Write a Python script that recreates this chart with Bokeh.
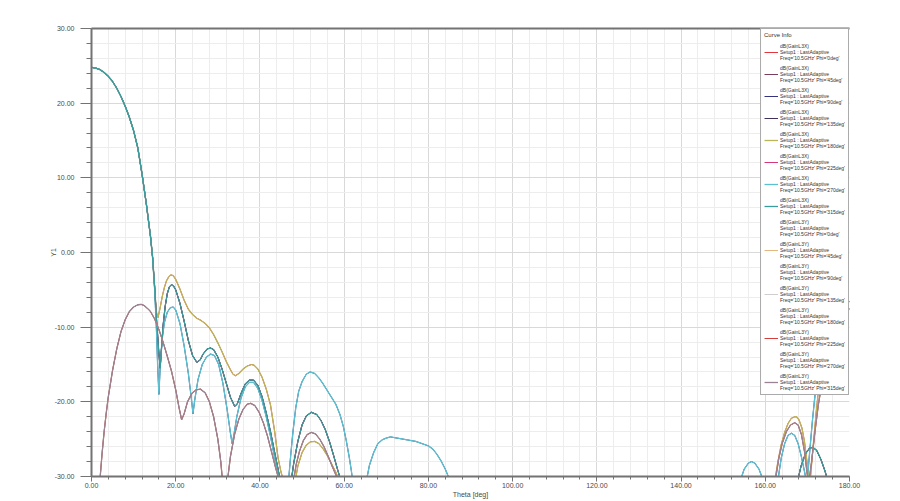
import math
from bokeh.plotting import figure
from bokeh.models import (Range1d, SingleIntervalTicker, PrintfTickFormatter,
                          LinearAxis, Legend, LegendItem, FixedTicker)
from bokeh.embed import file_html
from bokeh.resources import INLINE

NAN = float("nan")

# ---- main beam shared by the co-pol (GainL3X) cuts ----
main_theta = [0, 1, 2, 3, 4, 5, 6, 7, 8, 9, 10, 11, 12, 13, 14, 14.5]
main_db = [24.8, 24.7, 24.5, 24.1, 23.6, 22.9, 22.0, 20.9, 19.6, 18.1, 16.3, 14.0, 10.5, 6.6, 2.2, -0.6]

# ---- curve A (Phi=0/180 GainL3X) after the main beam ----
a_theta = [15.0, 15.4, 15.8, 16.3, 16.8, 17.3, 17.8, 18.3, 18.8, 19.4, 20.0, 21.0, 22.0, 23.0, 24.0,
           25.0, 26.0, 27.0, 28.0, 29.0, 30.0, 31.0, 32.0, 33.0, 33.6, 34.2, 35.0, 36.0, 37.0, 38.0,
           38.6, 39.5, 40.5, 41.5, 42.5, 43.5, 44.3, 45.0, 45.6,
           NAN, 48.5, 49.0, 50.0, 51.0, 52.0, 53.0, 54.0, 55.0, 56.0, 57.0, 58.0, 58.8,
           NAN, 162.3, 163.0, 163.8, 164.6, 165.4, 166.2, 167.0, 167.4, 168.0, 168.7, 169.3, 169.9,
           170.6, 171.2, 172.0, 172.7, 174.0, 176.0, 178.0, 180.0]
a_db = [-4.8, -8.0, -8.7, -7.4, -5.9, -4.7, -3.8, -3.3, -3.0, -3.1, -3.6, -4.9, -6.4, -7.6, -8.3,
        -8.8, -9.1, -9.5, -10.1, -11.0, -12.1, -13.3, -14.6, -15.7, -16.3, -16.5, -16.2, -15.6, -15.2, -15.0,
        -15.1, -15.6, -16.7, -18.3, -20.4, -24.0, -27.5, -29.4, -30.6,
        NAN, -30.2, -28.6, -26.8, -25.8, -25.35, -25.3, -25.6, -26.3, -27.2, -28.3, -29.4, -30.5,
        NAN, -30.5, -28.0, -25.7, -24.1, -22.9, -22.2, -22.0, -22.0, -22.4, -23.5, -25.3, -28.0,
        -31.0, -27.0, -22.0, -18.0, -14.0, -10.5, -8.0, -6.5]

# ---- curve B (diagonal cuts GainL3X) ----
b_theta = [15.0, 15.5, 16.0, 16.3, 16.6, 17.0, 17.5, 18.0, 18.5, 19.0, 19.5, 20.0, 21.0, 22.0, 23.0,
           24.0, 25.0, 25.8, 26.5, 27.5, 28.3, 29.0, 30.0, 31.0, 32.0, 33.0, 34.0, 34.6, 35.5, 36.5,
           37.5, 38.5, 39.5, 40.5, 41.5, 42.5, 43.5, 44.3, 44.8,
           NAN, 47.5, 48.0, 49.0, 50.0, 51.0, 52.2, 53.5, 54.5, 55.5, 56.5, 57.5, 58.5, 59.2,
           NAN, 167.8, 168.5, 169.5, 170.5, 171.3, 172.2, 173.2, 174.2, 174.8]
b_db = [-4.6, -9.5, -13.5, -15.5, -13.0, -9.8, -7.2, -5.5, -4.6, -4.3, -4.5, -5.0, -6.8, -9.2, -11.8,
        -13.8, -14.7, -14.4, -13.6, -12.9, -12.8, -13.0, -14.0, -15.6, -17.5, -19.4, -20.6, -20.3, -18.9, -17.6,
        -17.1, -17.1, -17.8, -19.3, -21.5, -24.0, -26.8, -29.0, -30.5,
        NAN, -30.3, -28.3, -25.3, -23.1, -21.9, -21.4, -21.7, -22.5, -23.7, -25.3, -27.2, -29.2, -30.5,
        NAN, -30.3, -28.6, -27.0, -26.2, -26.1, -26.5, -27.7, -29.3, -30.5]

# ---- curve C (Phi=90/270 GainL3X) ----
c_theta = [15.0, 15.4, 15.7, 16.0, 16.3, 16.8, 17.3, 18.0, 18.7, 19.4, 20.0, 21.0, 22.0, 23.0, 23.7,
           24.1, 24.5, 25.3, 26.3, 27.3, 28.3, 29.2, 30.2, 31.2, 32.2, 33.0, 33.4, 33.8, 34.5, 35.5,
           36.5, 37.5, 38.5, 39.5, 40.5, 41.5, 42.5, 43.5, 44.3, 44.7,
           NAN, 46.8, 47.3, 47.8, 48.5, 49.2, 50.0, 51.0, 51.9, 53.0, 54.0, 55.0, 56.0, 57.0, 58.0,
           59.0, 59.8, 60.5, 61.2, 61.7, 62.0,
           NAN, 65.3, 66.0, 67.0, 68.0, 69.0, 70.0, 71.0, 72.0, 73.0, 74.0, 75.0, 76.0, 77.0, 78.0,
           79.0, 80.0, 81.0, 82.0, 83.0, 84.0, 85.1,
           NAN, 154.1, 155.0, 156.0, 156.7, 157.5, 158.5, 159.5,
           NAN, 163.0, 163.8, 164.6, 165.4, 166.2, 167.0, 167.8, 168.6, 169.3, 169.9, 170.5, 171.2,
           172.0, 173.0, 175.0, 177.0, 180.0]
c_db = [-5.0, -10.0, -15.0, -19.0, -15.5, -11.5, -9.4, -8.0, -7.4, -7.3, -7.7, -9.5, -12.5, -16.2, -19.5,
        -21.6, -19.8, -17.0, -15.0, -14.0, -13.6, -13.8, -15.0, -17.5, -21.0, -24.2, -25.6, -24.5, -22.0, -19.5,
        -18.0, -17.4, -17.4, -18.2, -19.8, -22.0, -24.6, -27.5, -29.6, -30.5,
        NAN, -30.5, -27.2, -24.2, -20.8, -18.6, -17.3, -16.3, -16.0, -16.2, -16.8, -17.6, -18.5, -19.4, -20.3,
        -21.7, -23.3, -25.2, -27.4, -29.2, -30.5,
        NAN, -30.5, -28.5, -26.8, -25.6, -25.1, -24.85, -24.7, -24.8, -24.9, -25.0, -25.1, -25.2, -25.3, -25.5,
        -25.7, -25.9, -26.3, -27.0, -27.9, -29.0, -30.5,
        NAN, -30.5, -29.0, -28.2, -28.0, -28.2, -29.0, -30.5,
        NAN, -30.5, -27.5, -25.6, -24.5, -24.2, -24.5, -25.6, -27.4, -29.3, -31.0, -27.0, -22.5,
        -18.0, -14.0, -10.5, -8.5, -6.5]

# ---- curve D (diagonal cuts GainL3Y, cross-pol) ----
d_theta = [2.0, 2.5, 3.0, 3.5, 4.0, 5.0, 6.0, 7.0, 8.0, 9.0, 10.0, 11.0, 11.8, 12.5, 13.5,
           14.0, 15.0, 16.0, 17.0, 18.0, 19.0, 20.0, 20.8, 21.4, 22.0, 22.8, 23.8, 24.8, 25.9, 27.0,
           28.0, 29.0, 30.0, 30.7, 31.1,
           NAN, 32.3, 33.0, 34.0, 35.0, 36.0, 37.0, 37.8, 38.8, 39.8, 40.8, 41.8, 42.8, 43.8, 44.6,
           NAN, 48.0, 48.6, 49.4, 50.3, 51.2, 52.2, 53.2, 54.2, 55.2, 56.2, 57.2, 58.2, 58.8,
           NAN, 162.4, 163.2, 164.0, 165.0, 166.0, 167.0, 167.8, 168.6, 169.3, 169.9, 170.3, 171.0,
           171.8, 172.6, 173.3, 175.0, 177.0, 180.0]
d_db = [-30.5, -27.0, -24.0, -21.5, -19.3, -15.8, -12.9, -10.6, -9.0, -7.9, -7.3, -7.0, -6.95, -7.1, -7.6,
        -7.9, -8.9, -10.3, -12.0, -13.9, -15.9, -18.4, -20.8, -22.4, -21.6, -20.0, -18.9, -18.4, -18.3, -18.8,
        -20.0, -22.0, -25.0, -28.0, -30.5,
        NAN, -30.5, -27.3, -24.3, -22.3, -21.0, -20.3, -20.2, -20.5, -21.4, -22.8, -24.6, -26.8, -29.0, -30.5,
        NAN, -30.5, -28.4, -26.6, -25.2, -24.4, -24.1, -24.3, -25.0, -26.0, -27.3, -28.7, -30.0, -30.8,
        NAN, -30.5, -27.6, -25.6, -24.0, -23.1, -22.8, -23.1, -24.4, -26.6, -29.4, -31.0, -28.0,
        -24.0, -20.4, -18.0, -13.0, -10.0, -7.5]

# principal-plane cross-pol cuts stay below the -30 dB floor (nothing visible)
empty_theta = []
empty_db = []

assert len(a_theta) == len(a_db)
assert len(b_theta) == len(b_db)
assert len(c_theta) == len(c_db)
assert len(d_theta) == len(d_db)

A = (main_theta + a_theta, main_db + a_db)
B = (main_theta + b_theta, main_db + b_db)
C = (main_theta + c_theta, main_db + c_db)
D = (d_theta, d_db)
E = (empty_theta, empty_db)

quantities = ["dB(GainL3X)"] * 8 + ["dB(GainL3Y)"] * 8
phis = ["0deg", "45deg", "90deg", "135deg", "180deg", "225deg", "270deg", "315deg"] * 2
colors = ["#e0202a", "#6a2848", "#1c1c70", "#2a1a48", "#bcb458", "#d0206a", "#5cc0d0", "#3a9c9a",
          "#701c1c", "#e0b070", "#404040", "#c8c8c8", "#5a2050", "#d02828", "#e02020", "#9a8494"]
curves = [A, B, C, B, A, B, C, B,
          E, D, E, D, E, D, E, D]
on_top = [False, False, False, False, True, False, True, True,
          False, False, False, False, False, False, False, True]

p = figure(width=890, height=500, output_backend="svg", toolbar_location=None,
           x_range=Range1d(0, 180), y_range=Range1d(-30, 30),
           min_border_left=91, min_border_right=41, min_border_top=28, min_border_bottom=19,
           background_fill_color="white", border_fill_color="white")
p.outline_line_color = None

axis_col = "#737373"
lab_col = "#4a4a4a"
for ax in (p.xaxis[0], p.yaxis[0]):
    ax.axis_line_color = axis_col
    ax.axis_line_width = 2
    ax.major_tick_line_color = axis_col
    ax.minor_tick_line_color = axis_col
    ax.major_tick_line_width = 1
    ax.minor_tick_line_width = 1
    ax.major_tick_in = 0
    ax.minor_tick_in = 0
    ax.major_label_text_font = "Liberation Sans"
    ax.major_label_text_font_size = "7px"
    ax.major_label_text_color = lab_col
    ax.axis_label_text_font = "Liberation Sans"
    ax.axis_label_text_font_size = "7px"
    ax.axis_label_text_font_style = "normal"
    ax.axis_label_text_color = lab_col
    ax.formatter = PrintfTickFormatter(format="%.2f")

p.xaxis.ticker = SingleIntervalTicker(interval=20, num_minor_ticks=5)
p.yaxis.ticker = SingleIntervalTicker(interval=10, num_minor_ticks=5)
p.xaxis.major_tick_out = 5
p.xaxis.minor_tick_out = 3
p.yaxis.major_tick_out = 11
p.yaxis.minor_tick_out = 5
p.xaxis.major_label_standoff = 1
p.yaxis.major_label_standoff = 6
p.xaxis.axis_label = "Theta [deg]"
p.xaxis.axis_label_standoff = 0
p.yaxis.axis_label = "Y1"
p.yaxis.axis_label_standoff = -5

p.xgrid.grid_line_color = "#d9d9d9"
p.ygrid.grid_line_color = "#d9d9d9"
p.xgrid.minor_grid_line_color = "#ededed"
p.ygrid.minor_grid_line_color = "#ededed"

top = LinearAxis(axis_line_color=axis_col, axis_line_width=2,
                 ticker=FixedTicker(ticks=[]),
                 major_tick_line_color=None, minor_tick_line_color=None)
p.add_layout(top, "above")

items = []
for q, ph, col, cv, topmost in zip(quantities, phis, colors, curves, on_top):
    r = p.line(x=cv[0], y=cv[1], line_color=col, line_width=1.3 if topmost else 0.9)
    lbl = q + "\nSetup1 : LastAdaptive\nFreq='10.5GHz' Phi='" + ph + "'"
    items.append(LegendItem(label=lbl, renderers=[r]))

legend = Legend(items=items, location="top_right", title="Curve Info")
legend.margin = 0
legend.padding = 3
legend.spacing = 4
legend.glyph_width = 14
legend.glyph_height = 8
legend.label_standoff = 2
legend.label_text_font = "Liberation Sans"
legend.label_text_font_size = "5px"
legend.label_text_line_height = 1.16
legend.label_text_color = "#333333"
legend.title_text_font = "Liberation Sans"
legend.title_text_font_size = "6px"
legend.title_text_font_style = "normal"
legend.title_text_color = "#333333"
legend.border_line_color = "#555555"
legend.border_line_width = 1
legend.background_fill_color = "white"
legend.background_fill_alpha = 1.0
p.add_layout(legend)

open("out.html", "w").write(file_html(p, INLINE))
